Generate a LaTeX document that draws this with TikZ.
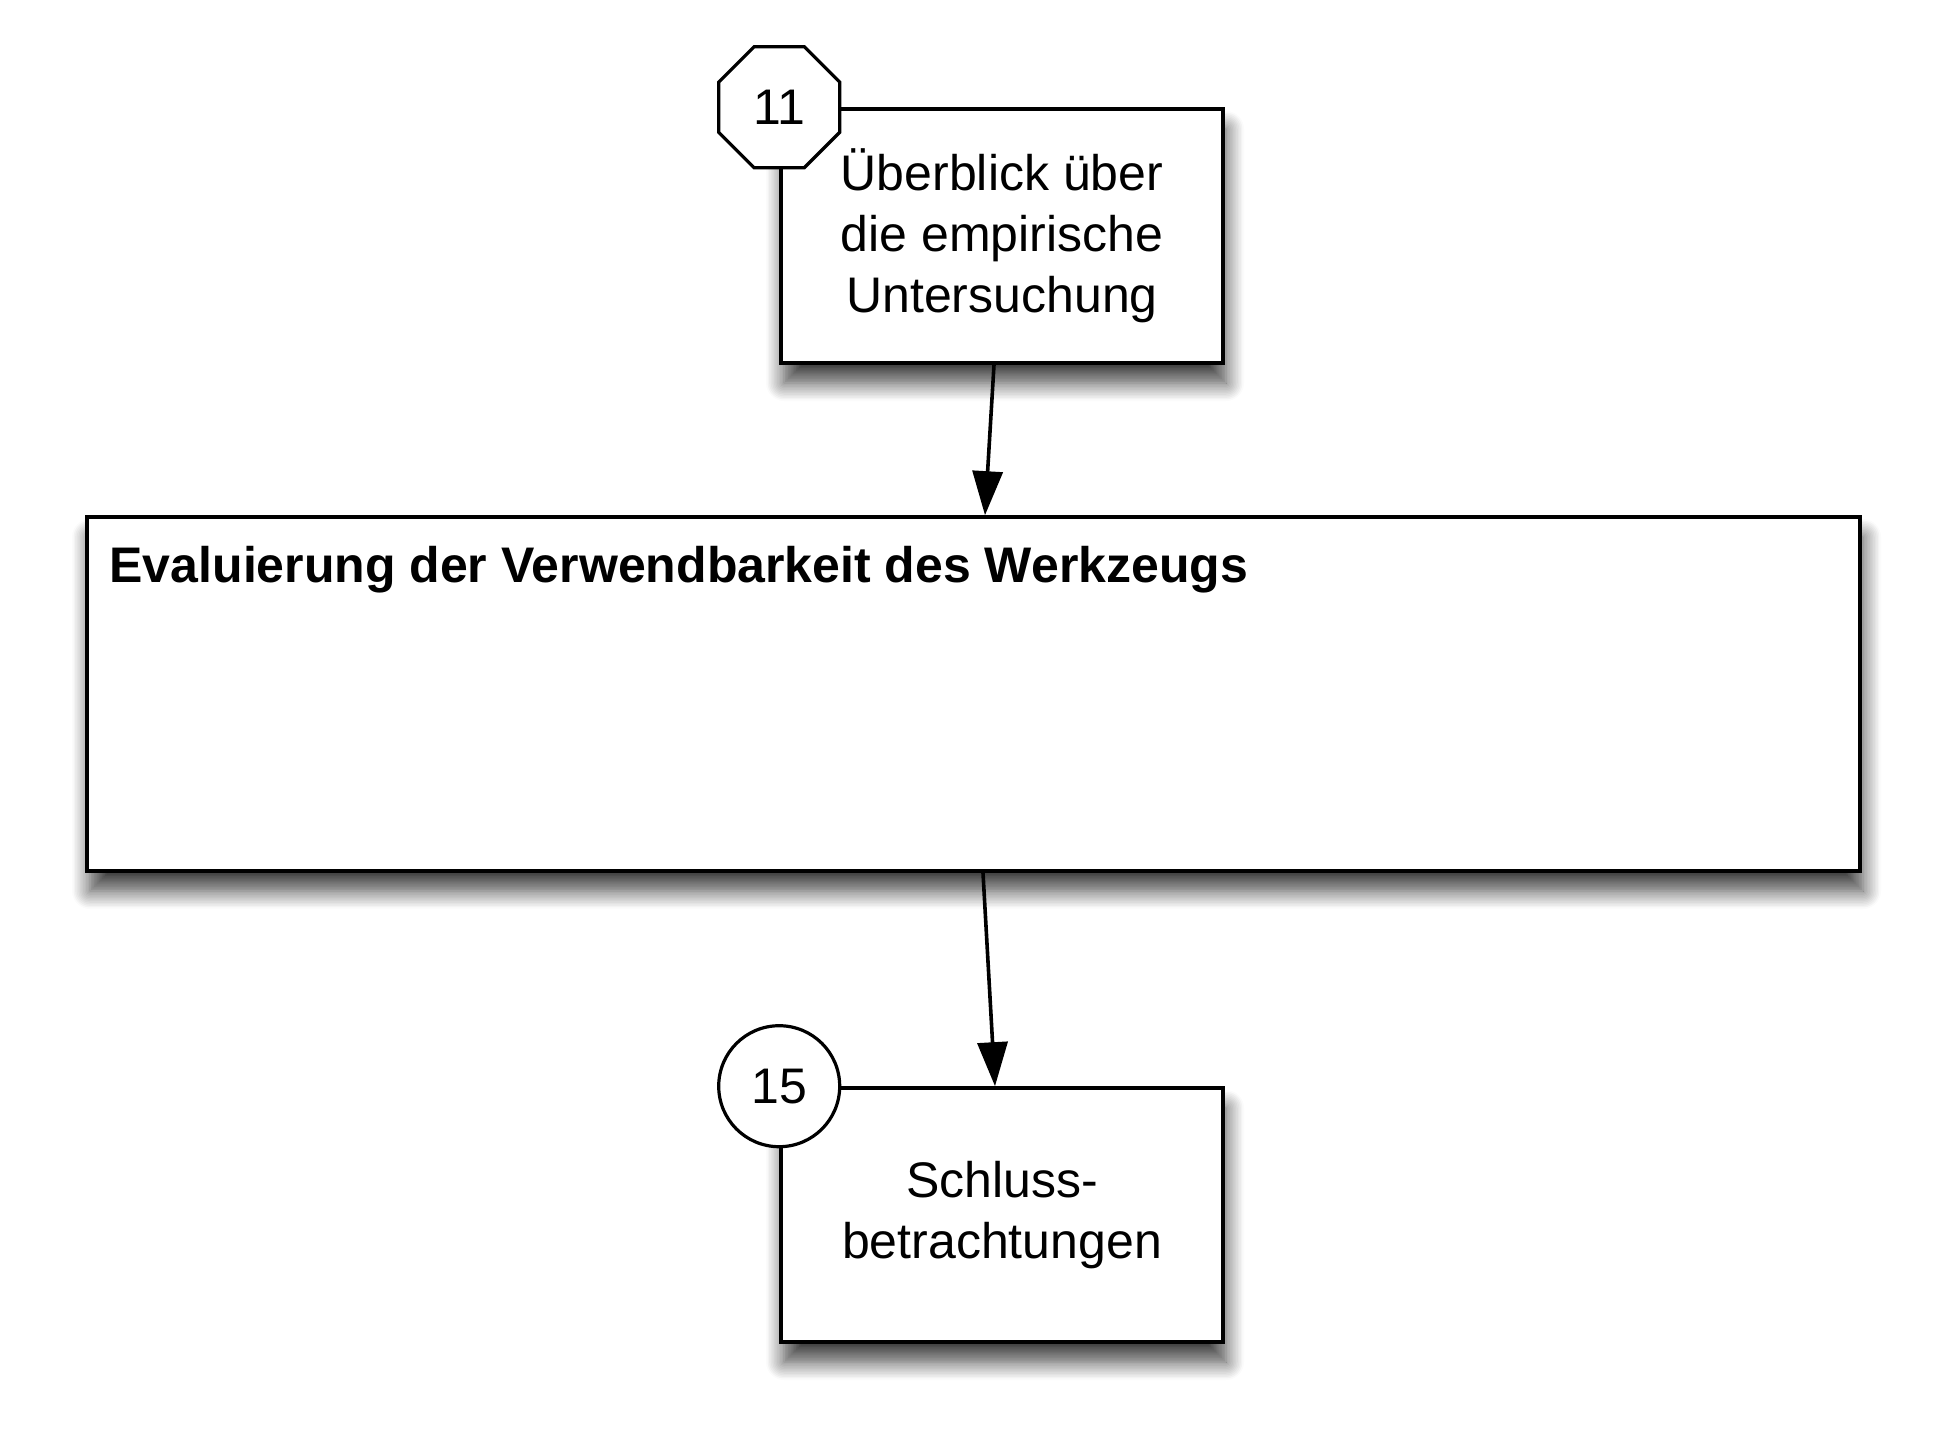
\documentclass[tikz,border=0pt]{standalone}
\usepackage{fontspec}
\setmainfont{Liberation Sans}
\usetikzlibrary{shapes.geometric, arrows.meta, shadows.blur}

\begin{document}
\begin{tikzpicture}[x=0.5pt, y=-0.5pt,
  boxshadow/.style={blur shadow={shadow xshift=1.5pt, shadow yshift=-10pt, shadow blur radius=9pt, shadow blur steps=12, shadow opacity=75}},
  chapbox/.style={draw, line width=1.8pt, fill=white, minimum width=221pt, minimum height=127pt, align=center, font=\fontsize{25}{30.5}\selectfont, boxshadow},
  partbox/.style={draw, line width=1.8pt, fill=white, minimum width=886.5pt, minimum height=177pt, boxshadow},
  octbadge/.style={draw, line width=1.6pt, fill=white, regular polygon, regular polygon sides=8, minimum size=65.5pt, inner sep=0pt, font=\fontsize{25}{30}\selectfont},
  circbadge/.style={draw, line width=1.6pt, fill=white, circle, minimum size=60.5pt, inner sep=0pt, font=\fontsize{25}{30}\selectfont},
  flow/.style={-{Triangle[length=22pt, width=15pt]}, line width=1.8pt}]

\useasboundingbox (0,0) rectangle (1945,1441);

\node[chapbox] (ueberblick) at (1002,236) {Überblick über\\die empirische\\Untersuchung};
\node[octbadge] (nr11) at (ueberblick.north west) {11};

\node[partbox] (evaluierung) at (973.5,694) {};
%Text
\node[font=\bfseries\fontsize{25}{30}\selectfont, anchor=base west, inner sep=0pt] (evaltitel) at ([xshift=12pt, yshift=-33.5pt]evaluierung.north west) {Evaluierung der Verwendbarkeit des Werkzeugs};

\node[chapbox] (schluss) at (1002,1215) {Schluss-\\betrachtungen};
\node[circbadge] (nr15) at (schluss.north west) {15};

\draw[flow] ([xshift=-4pt]ueberblick.south) -- ([xshift=5.75pt]evaluierung.north);
\draw[flow] ([xshift=4.75pt]evaluierung.south) -- ([xshift=-3.5pt]schluss.north);
\end{tikzpicture}
\end{document}
